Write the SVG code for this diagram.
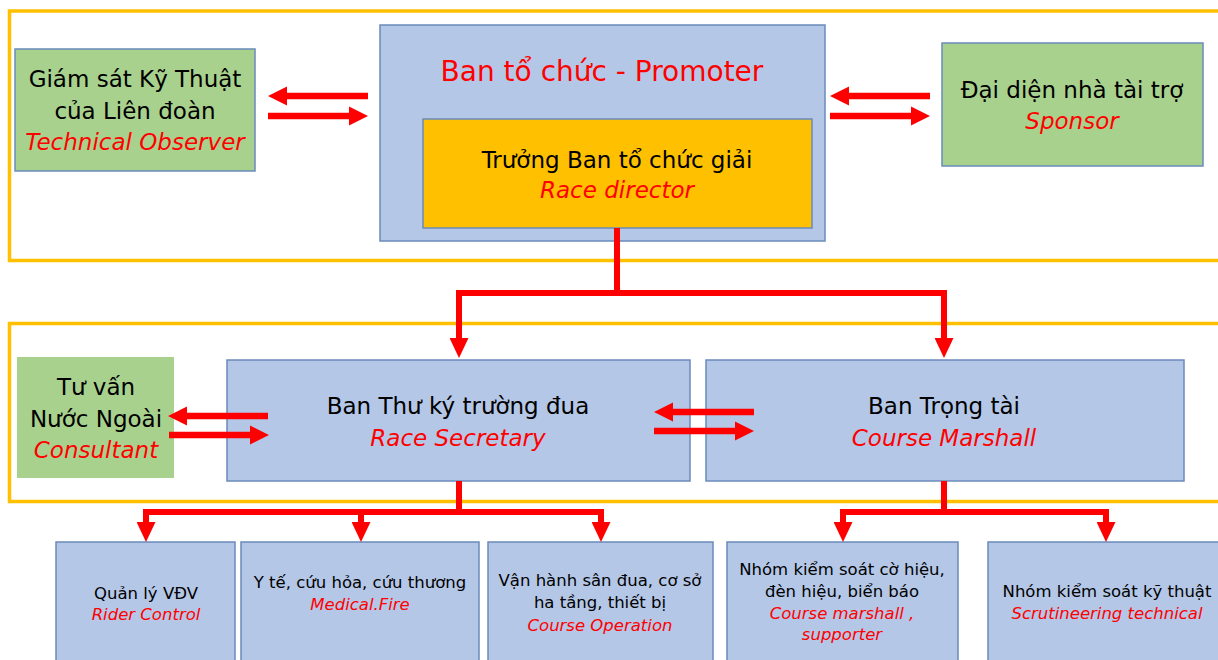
<svg xmlns="http://www.w3.org/2000/svg" xmlns:xlink="http://www.w3.org/1999/xlink" width="1218" height="660" viewBox="0 0 1218 660">
<style>
.frame{fill:none;stroke:#ffc000;stroke-width:3.5}
.blue{fill:#b4c7e7;stroke:#6a8bbb;stroke-width:1.5}
.green{fill:#a9d18e;stroke:#6a8bbb;stroke-width:1.5}
.orange{fill:#ffc000;stroke:#6a8bbb;stroke-width:1.5}
text{font-family:"DejaVu Sans","Liberation Sans",sans-serif;text-anchor:middle}
.t{font-size:23px;fill:#000}
.r{font-size:23px;fill:#ff0000;font-style:italic}
.s{font-size:16.5px;fill:#000}
.sr{font-size:16.5px;fill:#ff0000;font-style:italic}
.conn{fill:none;stroke:#ff0000;stroke-width:6;stroke-linejoin:miter;marker-end:url(#ah)}
.blk{fill:#ff0000}
</style>
<defs>
<marker id="ah" viewBox="0 0 20 19" refX="0" refY="9.5" markerWidth="20" markerHeight="19" markerUnits="userSpaceOnUse" orient="auto">
<path d="M0,0 L20,9.5 L0,19 Z" fill="#ff0000"/>
</marker>
<path id="ar" class="blk" d="M0,-3.2 H81 V-9.5 L100,0 L81,9.5 V3.2 H0 Z"/>
</defs>
<rect width="1218" height="660" fill="#ffffff"/>
<g id="frames">
<rect class="frame" x="9.5" y="11" width="1230" height="249.5"/>
<rect class="frame" x="9.5" y="323.5" width="1230" height="178"/>
</g>
<g id="observer">
<rect class="green" x="15" y="49" width="240" height="122"/>
<text class="t" x="135" y="87">Giám sát Kỹ Thuật</text>
<text class="t" x="135" y="119">của Liên đoàn</text>
<text class="r" x="135" y="150">Technical Observer</text>
</g>
<g id="promoter">
<rect class="blue" x="380" y="25" width="445" height="216"/>
<text x="602" y="81" style="font-size:28px;fill:#ff0000">Ban tổ chức - Promoter</text>
</g>
<g id="race-director">
<rect class="orange" x="423" y="119" width="389" height="109"/>
<text class="t" x="617" y="168">Trưởng Ban tổ chức giải</text>
<text class="r" x="617" y="198">Race director</text>
</g>
<g id="sponsor">
<rect class="green" x="942" y="43" width="261" height="123"/>
<text class="t" x="1072" y="98">Đại diện nhà tài trợ</text>
<text class="r" x="1072" y="129">Sponsor</text>
</g>
<g id="consultant">
<rect x="17" y="357" width="157" height="121" fill="#a9d18e"/>
<text class="t" x="96" y="395">Tư vấn</text>
<text class="t" x="96" y="427">Nước Ngoài</text>
<text class="r" x="96" y="458">Consultant</text>
</g>
<g id="secretary">
<rect class="blue" x="227" y="360" width="463" height="121"/>
<text class="t" x="458" y="414">Ban Thư ký trường đua</text>
<text class="r" x="458" y="446">Race Secretary</text>
</g>
<g id="marshall">
<rect class="blue" x="706" y="360" width="478" height="121"/>
<text class="t" x="944" y="414">Ban Trọng tài</text>
<text class="r" x="944" y="446">Course Marshall</text>
</g>
<g id="rider-control">
<rect class="blue" x="56" y="542" width="179" height="130"/>
<text class="s" x="146" y="599">Quản lý VĐV</text>
<text class="sr" x="146" y="620">Rider Control</text>
</g>
<g id="medical">
<rect class="blue" x="241" y="542" width="238" height="130"/>
<text class="s" x="360" y="588">Y tế, cứu hỏa, cứu thương</text>
<text class="sr" x="360" y="610">Medical.Fire</text>
</g>
<g id="course-operation">
<rect class="blue" x="488" y="542" width="225" height="130"/>
<text class="s" x="600" y="586">Vận hành sân đua, cơ sở</text>
<text class="s" x="600" y="608">ha tầng, thiết bị</text>
<text class="sr" x="600" y="631">Course Operation</text>
</g>
<g id="flag-marshall">
<rect class="blue" x="727" y="542" width="231" height="130"/>
<text class="s" x="842" y="575">Nhóm kiểm soát cờ hiệu,</text>
<text class="s" x="842" y="597">đèn hiệu, biển báo</text>
<text class="sr" x="842" y="619">Course marshall ,</text>
<text class="sr" x="842" y="640">supporter</text>
</g>
<g id="scrutineering">
<rect class="blue" x="988" y="542" width="240" height="130"/>
<text class="s" x="1107" y="597">Nhóm kiểm soát kỹ thuật</text>
<text class="sr" x="1107" y="619">Scrutineering technical</text>
</g>
<g id="connectors">
<use xlink:href="#ar" transform="translate(368,96) scale(-1,1)"/>
<use xlink:href="#ar" transform="translate(268,116)"/>
<use xlink:href="#ar" transform="translate(930,96) scale(-1,1)"/>
<use xlink:href="#ar" transform="translate(830,116)"/>
<use xlink:href="#ar" transform="translate(268,416) scale(-1,1)"/>
<use xlink:href="#ar" transform="translate(169,435)"/>
<use xlink:href="#ar" transform="translate(754,412) scale(-1,1)"/>
<use xlink:href="#ar" transform="translate(654,431)"/>
<path class="conn" d="M617,228 V293 H459 V338"/>
<path class="conn" d="M617,293 H944 V338"/>
<path class="conn" d="M459,481 V512 H146 V522"/>
<path class="conn" d="M459,512 H361 V522"/>
<path class="conn" d="M459,512 H601 V522"/>
<path class="conn" d="M944,481 V512 H843 V522"/>
<path class="conn" d="M944,512 H1106 V522"/>
</g>
</svg>
